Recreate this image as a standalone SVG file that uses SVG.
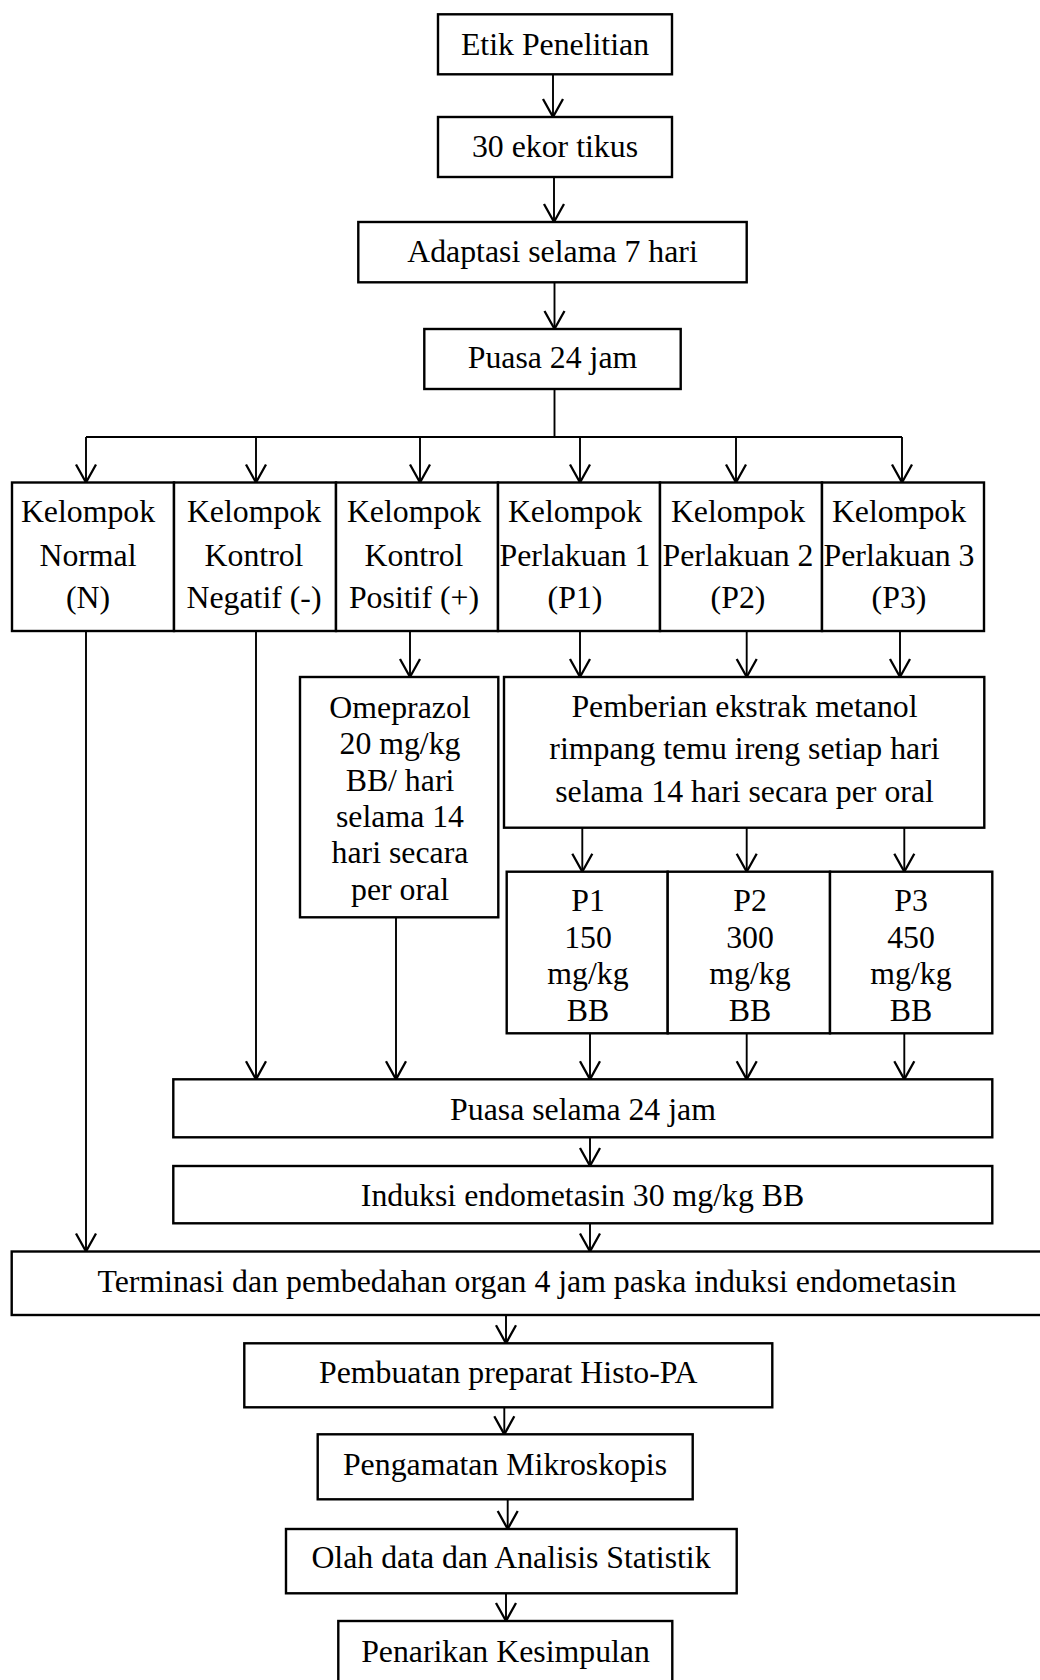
<svg xmlns="http://www.w3.org/2000/svg" width="1040" height="1680" viewBox="0 0 1040 1680">
<style>
.box{fill:#fff;stroke:#000;stroke-width:2.4}
.t{font-family:"Liberation Serif","Times New Roman",serif;font-size:31.8px;fill:#000;text-anchor:middle}
.c{fill:none;stroke:#000;stroke-width:1.9}
</style>
<defs>
<marker id="ah" markerUnits="userSpaceOnUse" markerWidth="22" markerHeight="24" viewBox="-20 -12 22 24" refX="0" refY="0" orient="auto" overflow="visible">
<path d="M-18,-10 L0,0 L-18,10" fill="none" stroke="#000" stroke-width="2.3"/>
</marker>
</defs>
<rect width="1040" height="1680" fill="#fff"/>
<g id="connectors">
<line class="c" x1="553" y1="74" x2="553" y2="117" marker-end="url(#ah)"/>
<line class="c" x1="554" y1="177" x2="554" y2="222" marker-end="url(#ah)"/>
<line class="c" x1="554.5" y1="282" x2="554.5" y2="329" marker-end="url(#ah)"/>
<line class="c" x1="554.5" y1="389" x2="554.5" y2="437"/>
<line class="c" x1="86" y1="437" x2="902" y2="437"/>
<line class="c" x1="86" y1="437" x2="86" y2="482.5" marker-end="url(#ah)"/>
<line class="c" x1="256" y1="437" x2="256" y2="482.5" marker-end="url(#ah)"/>
<line class="c" x1="420" y1="437" x2="420" y2="482.5" marker-end="url(#ah)"/>
<line class="c" x1="580" y1="437" x2="580" y2="482.5" marker-end="url(#ah)"/>
<line class="c" x1="736" y1="437" x2="736" y2="482.5" marker-end="url(#ah)"/>
<line class="c" x1="902" y1="437" x2="902" y2="482.5" marker-end="url(#ah)"/>
<line class="c" x1="86" y1="631" x2="86" y2="1251.5" marker-end="url(#ah)"/>
<line class="c" x1="256" y1="631" x2="256" y2="1079.3" marker-end="url(#ah)"/>
<line class="c" x1="410" y1="631" x2="410" y2="677" marker-end="url(#ah)"/>
<line class="c" x1="396" y1="917.3" x2="396" y2="1079.3" marker-end="url(#ah)"/>
<line class="c" x1="580" y1="631" x2="580" y2="677" marker-end="url(#ah)"/>
<line class="c" x1="746.7" y1="631" x2="746.7" y2="677" marker-end="url(#ah)"/>
<line class="c" x1="900" y1="631" x2="900" y2="677" marker-end="url(#ah)"/>
<line class="c" x1="582.3" y1="827.7" x2="582.3" y2="871.7" marker-end="url(#ah)"/>
<line class="c" x1="746.7" y1="827.7" x2="746.7" y2="871.7" marker-end="url(#ah)"/>
<line class="c" x1="904.3" y1="827.7" x2="904.3" y2="871.7" marker-end="url(#ah)"/>
<line class="c" x1="590" y1="1033.3" x2="590" y2="1079.3" marker-end="url(#ah)"/>
<line class="c" x1="746.7" y1="1033.3" x2="746.7" y2="1079.3" marker-end="url(#ah)"/>
<line class="c" x1="904.3" y1="1033.3" x2="904.3" y2="1079.3" marker-end="url(#ah)"/>
<line class="c" x1="590" y1="1137.3" x2="590" y2="1166" marker-end="url(#ah)"/>
<line class="c" x1="590" y1="1223.3" x2="590" y2="1251.5" marker-end="url(#ah)"/>
<line class="c" x1="506" y1="1315" x2="506" y2="1343.3" marker-end="url(#ah)"/>
<line class="c" x1="504.3" y1="1407.3" x2="504.3" y2="1434.3" marker-end="url(#ah)"/>
<line class="c" x1="507.7" y1="1499.3" x2="507.7" y2="1529" marker-end="url(#ah)"/>
<line class="c" x1="506" y1="1593.3" x2="506" y2="1621" marker-end="url(#ah)"/>
</g>
<g id="etik"><rect class="box" x="438" y="14.3" width="234" height="60"/><text class="t" x="555" y="55">Etik Penelitian</text></g>
<g id="tikus"><rect class="box" x="438" y="117" width="234" height="60"/><text class="t" x="555" y="156.7">30 ekor tikus</text></g>
<g id="adaptasi"><rect class="box" x="358.3" y="222" width="388.4" height="60.3"/><text class="t" x="552.5" y="261.7">Adaptasi selama 7 hari</text></g>
<g id="puasa1"><rect class="box" x="424.3" y="329" width="256.4" height="60"/><text class="t" x="552.5" y="368.3">Puasa 24 jam</text></g>
<g id="normal"><rect class="box" x="12" y="482.5" width="162" height="148.5"/><text class="t" x="88" y="522">Kelompok</text><text class="t" x="88" y="565.5">Normal</text><text class="t" x="88" y="608">(N)</text></g>
<g id="negatif"><rect class="box" x="174" y="482.5" width="162" height="148.5"/><text class="t" x="254" y="522">Kelompok</text><text class="t" x="254" y="565.5">Kontrol</text><text class="t" x="254" y="608">Negatif (-)</text></g>
<g id="positif"><rect class="box" x="336" y="482.5" width="162" height="148.5"/><text class="t" x="414" y="522">Kelompok</text><text class="t" x="414" y="565.5">Kontrol</text><text class="t" x="414" y="608">Positif (+)</text></g>
<g id="p1g"><rect class="box" x="498" y="482.5" width="162" height="148.5"/><text class="t" x="575" y="522">Kelompok</text><text class="t" x="575" y="565.5">Perlakuan 1</text><text class="t" x="575" y="608">(P1)</text></g>
<g id="p2g"><rect class="box" x="660" y="482.5" width="162" height="148.5"/><text class="t" x="738" y="522">Kelompok</text><text class="t" x="738" y="565.5">Perlakuan 2</text><text class="t" x="738" y="608">(P2)</text></g>
<g id="p3g"><rect class="box" x="822" y="482.5" width="162" height="148.5"/><text class="t" x="899" y="522">Kelompok</text><text class="t" x="899" y="565.5">Perlakuan 3</text><text class="t" x="899" y="608">(P3)</text></g>
<g id="omeprazol"><rect class="box" x="300" y="677" width="198.3" height="240.3"/><text class="t" x="400" y="718"><tspan x="400">Omeprazol</tspan><tspan x="400" dy="36.3">20 mg/kg</tspan><tspan x="400" dy="36.3">BB/ hari</tspan><tspan x="400" dy="36.3">selama 14</tspan><tspan x="400" dy="36.3">hari secara</tspan><tspan x="400" dy="36.3">per oral</tspan></text></g>
<g id="pemberian"><rect class="box" x="504" y="677" width="480.3" height="150.7"/><text class="t" x="744.5" y="716.5"><tspan x="744.5">Pemberian ekstrak metanol</tspan><tspan x="744.5" dy="42.5">rimpang temu ireng setiap hari</tspan><tspan x="744.5" dy="42.5">selama 14 hari secara per oral</tspan></text></g>
<g id="dose1"><rect class="box" x="506.7" y="871.7" width="161" height="161.6"/><text class="t" x="588" y="911"><tspan x="588">P1</tspan><tspan x="588" dy="36.6">150</tspan><tspan x="588" dy="36.6">mg/kg</tspan><tspan x="588" dy="36.6">BB</tspan></text></g>
<g id="dose2"><rect class="box" x="667.7" y="871.7" width="162.3" height="161.6"/><text class="t" x="750" y="911"><tspan x="750">P2</tspan><tspan x="750" dy="36.6">300</tspan><tspan x="750" dy="36.6">mg/kg</tspan><tspan x="750" dy="36.6">BB</tspan></text></g>
<g id="dose3"><rect class="box" x="830" y="871.7" width="162.3" height="161.6"/><text class="t" x="911" y="911"><tspan x="911">P3</tspan><tspan x="911" dy="36.6">450</tspan><tspan x="911" dy="36.6">mg/kg</tspan><tspan x="911" dy="36.6">BB</tspan></text></g>
<g id="puasa2"><rect class="box" x="173.3" y="1079.3" width="819" height="58"/><text class="t" x="583" y="1120">Puasa selama 24 jam</text></g>
<g id="induksi"><rect class="box" x="173.3" y="1166" width="819" height="57.3"/><text class="t" x="582.5" y="1205.7">Induksi endometasin 30 mg/kg BB</text></g>
<g id="terminasi"><rect class="box" x="11.7" y="1251.5" width="1031" height="63.5"/><text class="t" x="527" y="1291.7">Terminasi dan pembedahan organ 4 jam paska induksi endometasin</text></g>
<g id="pembuatan"><rect class="box" x="244.3" y="1343.3" width="528" height="64"/><text class="t" x="508.3" y="1383.3">Pembuatan preparat Histo-PA</text></g>
<g id="pengamatan"><rect class="box" x="317.7" y="1434.3" width="375" height="65"/><text class="t" x="505" y="1475">Pengamatan Mikroskopis</text></g>
<g id="olah"><rect class="box" x="286" y="1529" width="450.7" height="64.3"/><text class="t" x="511" y="1568.3">Olah data dan Analisis Statistik</text></g>
<g id="penarikan"><rect class="box" x="338.3" y="1621" width="334" height="66"/><text class="t" x="505.5" y="1661.7">Penarikan Kesimpulan</text></g>
</svg>
